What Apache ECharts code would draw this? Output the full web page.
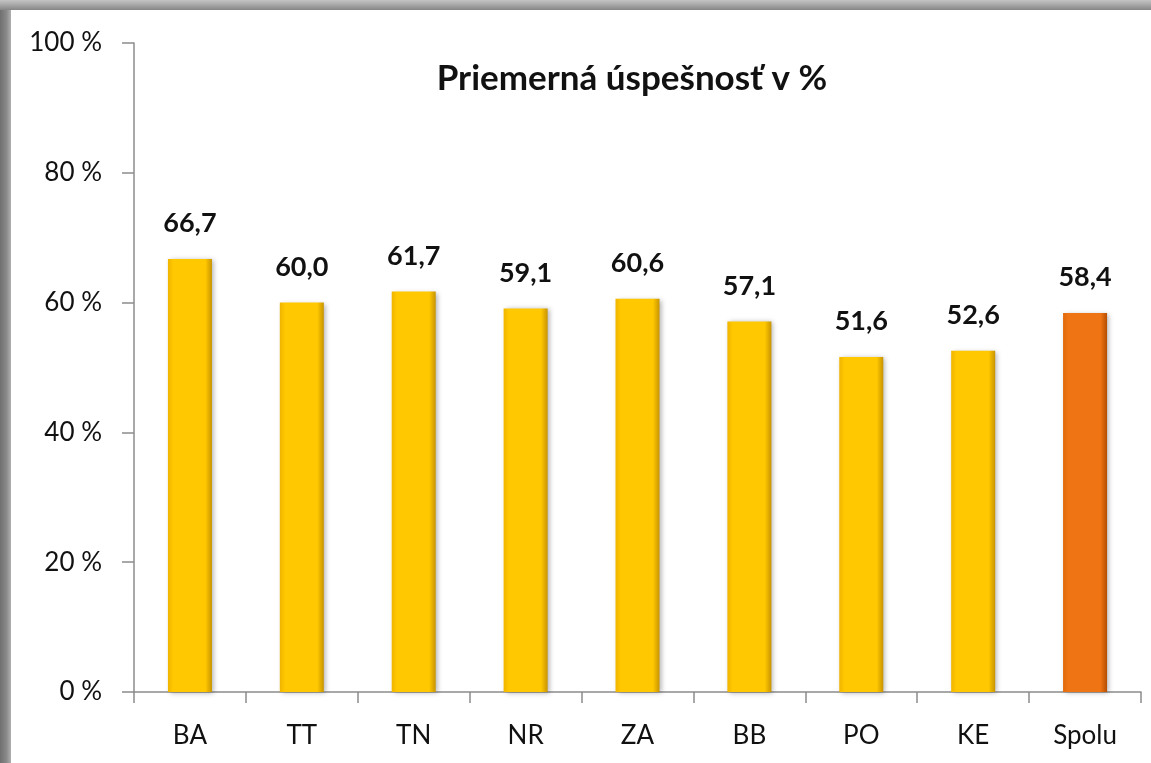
<!DOCTYPE html>
<html>
<head>
<meta charset="utf-8">
<script src="https://cdn.jsdelivr.net/npm/echarts@6/dist/echarts.min.js"></script>
<style>
  html, body { margin: 0; padding: 0; background: #fff; }
  #wrap { position: relative; width: 1151px; height: 763px; overflow: hidden; background: #fff; }
  /* sivý rám vľavo a hore */
  #frameLeft { position: absolute; left: 0; top: 0; width: 11px; height: 763px;
    background: linear-gradient(to right, #6f6f6f, #8a8a8a 60%, #b0b0b0); }
  #frameTop { position: absolute; left: 0; top: 0; width: 1151px; height: 10px;
    background: linear-gradient(to bottom, #c4c4c4, #a0a0a0 60%, #858585); }
  #chart { position: absolute; left: 0; top: 0; width: 1151px; height: 763px; }
</style>
</head>
<body>
<div id="wrap">
  <div id="frameLeft"></div>
  <div id="frameTop"></div>
  <div id="chart"></div>
</div>
<script>
  // kraje
  var categories = ['BA', 'TT', 'TN', 'NR', 'ZA', 'BB', 'PO', 'KE', 'Spolu'];
  // priemerná úspešnosť
  var values = [66.7, 60.0, 61.7, 59.1, 60.6, 57.1, 51.6, 52.6, 58.4];
  var yTicks = [0, 20, 40, 60, 80, 100];

  var chart = echarts.init(document.getElementById('chart'));

  function barStyle(dark, mid, edge) {
    return {
      color: new echarts.graphic.LinearGradient(0, 0, 1, 0, [
        { offset: 0, color: edge },
        { offset: 0.12, color: mid },
        { offset: 0.85, color: mid },
        { offset: 1, color: dark }
      ]),
      shadowColor: 'rgba(0,0,0,0.3)',
      shadowBlur: 5,
      shadowOffsetX: 2,
      shadowOffsetY: 1
    };
  }

  var yellow = barStyle('#c89400', '#ffc800', '#f0b400');
  var orange = barStyle('#b54e00', '#ef7414', '#e06a0c');

  var seriesData = values.map(function(v, i) {
    return {
      value: v,
      itemStyle: categories[i] === 'Spolu' ? orange : yellow
    };
  });

  var font = 'Lato, "DejaVu Sans", sans-serif';

  var option = {
    animation: false,
    title: {
      text: 'Priemerná úspešnosť v %',
      left: 627,
      top: 56,
      textAlign: 'center',
      textStyle: { fontFamily: font, fontWeight: 'bold', fontSize: 35, color: '#111' }
    },
    grid: { left: 134, right: 10, top: 43, bottom: 71 },
    xAxis: {
      type: 'category',
      data: categories,
      axisLine: { lineStyle: { color: '#8c8c8c', width: 1.5 } },
      axisTick: { show: true, length: 11, lineStyle: { color: '#8c8c8c', width: 1.5 } },
      axisLabel: { margin: 31, fontFamily: font, fontSize: 26, color: '#111' }
    },
    yAxis: {
      type: 'value',
      min: yTicks[0],
      max: yTicks[yTicks.length - 1],
      interval: 20,
      axisLine: { show: true, lineStyle: { color: '#8c8c8c', width: 1.5 } },
      axisTick: { show: true, length: 12, lineStyle: { color: '#8c8c8c', width: 1.5 } },
      splitLine: { show: false },
      axisLabel: {
        margin: 32,
        fontFamily: font, fontSize: 26, color: '#111',
        formatter: function(v) { return v + ' %'; }
      }
    },
    series: [{
      type: 'bar',
      data: seriesData,
      barWidth: 44,
      label: {
        show: true,
        position: 'top',
        distance: 22,
        fontFamily: font,
        fontWeight: 'bold',
        fontSize: 27,
        color: '#111',
        formatter: function(p) { return p.value.toFixed(1).replace('.', ','); }
      }
    }]
  };

  chart.setOption(option);
</script>
</body>
</html>
